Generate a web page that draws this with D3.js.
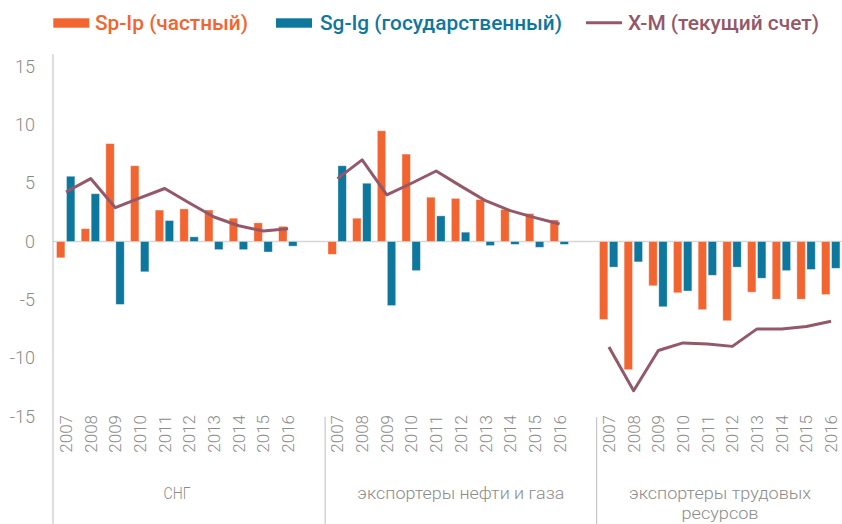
<!DOCTYPE html>
<html>
<head>
<meta charset="utf-8">
<script src="https://cdn.jsdelivr.net/npm/d3@7"></script>
<style>
  html, body { margin: 0; padding: 0; background: #ffffff; }
  svg { display: block; }
</style>
</head>
<body>
<svg id="chart" width="842" height="524"></svg>
<script>
// ---------------- DATA ----------------
const years = ["2007","2008","2009","2010","2011","2012","2013","2014","2015","2016"];
const groupNames = ["СНГ", "экспортеры нефти и газа", "экспортеры трудовых ресурсов"];
const seriesNames = ["Sp-Ip (частный)", "Sg-Ig (государственный)", "X-M (текущий счет)"];
const yTicks = [-15, -10, -5, 0, 5, 10, 15];

// Sp-Ip (частный)
const spCIS = [-1.4, 1.1, 8.4, 6.5, 2.7, 2.8, 2.7, 2.0, 1.6, 1.3];
const spOil = [-1.1, 2.0, 9.5, 7.5, 3.8, 3.7, 3.6, 2.75, 2.4, 1.85];
const spLab = [-6.7, -11.0, -3.8, -4.4, -5.85, -6.8, -4.35, -4.95, -4.95, -4.55];

// Sg-Ig (государственный)
const sgCIS = [5.6, 4.1, -5.4, -2.6, 1.8, 0.4, -0.7, -0.7, -0.9, -0.4];
const sgOil = [6.5, 5.0, -5.5, -2.5, 2.2, 0.8, -0.35, -0.25, -0.5, -0.25];
const sgLab = [-2.2, -1.75, -5.6, -4.25, -2.9, -2.2, -3.15, -2.5, -2.4, -2.3];

// X-M (текущий счет)
const xmCIS = [4.25, 5.4, 2.9, 3.75, 4.55, 3.3, 2.1, 1.35, 0.9, 1.1];
const xmOil = [5.4, 7.0, 4.0, 5.0, 6.05, 4.75, 3.5, 2.65, 2.05, 1.5];
const xmLab = [-9.05, -12.8, -9.35, -8.7, -8.8, -9.0, -7.5, -7.5, -7.3, -6.85];

const spAll = [spCIS, spOil, spLab];
const sgAll = [sgCIS, sgOil, sgLab];
const xmAll = [xmCIS, xmOil, xmLab];

// ---------------- STYLE ----------------
const cOrange = "#f26430";
const cBlue = "#0e779e";
const cLine = "#945869";
const cGray = "#8c8c8c";
const cAxis = "#c8c8c8";

const svg = d3.select("#chart");

// slot keys: each group's years, with an empty slot after the first two groups
const slots = [];
groupNames.forEach((g, gi) => {
  years.forEach(y => slots.push(gi + "-" + y));
  if (gi < groupNames.length - 1) slots.push(gi + "-blank");
});

const x = d3.scaleBand().domain(slots).range([53.66, 843.4]).padding(0);
const bw = x.bandwidth();
const cx = k => x(k) + bw / 2;
const y = d3.scaleLinear().domain([-15, 15]).range([416.3, 66.7]);

// rows
const rows = [];
groupNames.forEach((g, gi) => {
  years.forEach((yr, i) => {
    rows.push({ key: gi + "-" + yr, g: gi, year: yr, sp: spAll[gi][i], sg: sgAll[gi][i], xm: xmAll[gi][i] });
  });
});

// zero line
svg.append("line")
  .attr("x1", 53).attr("x2", 842)
  .attr("y1", y(0)).attr("y2", y(0))
  .attr("stroke", "#d6d6d6").attr("stroke-width", 1.5);

// bars
const barW = bw * 0.34;
svg.append("g").selectAll("rect.sp").data(rows).join("rect")
  .attr("class", "sp")
  .attr("x", d => cx(d.key) - bw * 0.385)
  .attr("width", barW)
  .attr("y", d => y(Math.max(0, d.sp)))
  .attr("height", d => Math.abs(y(d.sp) - y(0)))
  .attr("fill", cOrange)
  .attr("stroke", "#ffffff").attr("stroke-opacity", 0.45).attr("stroke-width", 0.8);

svg.append("g").selectAll("rect.sg").data(rows).join("rect")
  .attr("class", "sg")
  .attr("x", d => cx(d.key) + bw * 0.02)
  .attr("width", barW)
  .attr("y", d => y(Math.max(0, d.sg)))
  .attr("height", d => Math.abs(y(d.sg) - y(0)))
  .attr("fill", cBlue)
  .attr("stroke", "#ffffff").attr("stroke-opacity", 0.45).attr("stroke-width", 0.8);

// lines per group
const line = d3.line().x(d => cx(d.key)).y(d => y(d.xm));
groupNames.forEach((g, gi) => {
  svg.append("path")
    .datum(rows.filter(r => r.g === gi))
    .attr("d", line)
    .attr("fill", "none")
    .attr("stroke", cLine)
    .attr("stroke-width", 3)
    .attr("stroke-linejoin", "round");
});

// y axis line
svg.append("line")
  .attr("x1", 53).attr("x2", 53).attr("y1", 54).attr("y2", 524)
  .attr("stroke", cAxis).attr("stroke-width", 1.2);

// y axis ticks
const yAxis = svg.append("g").attr("transform", "translate(53,0)")
  .call(d3.axisLeft(y).tickValues(yTicks).tickSize(0).tickPadding(18).tickFormat(d => String(d)));
yAxis.select(".domain").remove();
yAxis.selectAll("text")
  .attr("font-family", "Roboto, 'DejaVu Sans', sans-serif")
  .attr("font-weight", 300)
  .attr("font-size", 18)
  .attr("fill", cGray);

// year labels
const xAxis = svg.append("g").attr("transform", "translate(0,415)")
  .call(d3.axisBottom(x).tickSize(0).tickFormat(k => k.endsWith("blank") ? "" : k.split("-")[1]));
xAxis.select(".domain").remove();
xAxis.selectAll("text")
  .attr("transform", "rotate(-90)")
  .attr("text-anchor", "end")
  .attr("x", 0).attr("y", 0).attr("dy", "0.35em")
  .attr("font-family", "Roboto, 'DejaVu Sans', sans-serif")
  .attr("font-weight", 300)
  .attr("font-size", 17)
  .attr("fill", cGray);

// group separators
[11, 22].forEach(i => {
  const sx = x(slots[i]);
  svg.append("line")
    .attr("x1", sx).attr("x2", sx).attr("y1", 417).attr("y2", 524)
    .attr("stroke", cAxis).attr("stroke-width", 1.2);
});

// group labels
const groupLabelSpec = [
  { lines: ["СНГ"], from: 0, to: 9, lens: [27] },
  { lines: ["экспортеры нефти и газа"], from: 11, to: 21, lens: [207] },
  { lines: ["экспортеры трудовых", "ресурсов"], from: 22, to: 31, lens: [182, 77] }
];
groupLabelSpec.forEach(s => {
  const mx = (x(slots[s.from]) + x(slots[s.to]) + bw) / 2;
  s.lines.forEach((t, li) => {
    svg.append("text")
      .attr("x", mx).attr("y", 499 + li * 20)
      .attr("text-anchor", "middle")
      .attr("font-family", "Roboto, 'DejaVu Sans', sans-serif")
      .attr("font-weight", 300)
      .attr("font-size", 17)
      .attr("fill", cGray)
      .attr("textLength", s.lens[li])
      .attr("lengthAdjust", "spacingAndGlyphs")
      .text(t);
  });
});

// legend
const legend = [
  { name: seriesNames[0], color: cOrange, type: "rect", sx: 53.3, tx: 95, tl: 153 },
  { name: seriesNames[1], color: cBlue, type: "rect", sx: 276, tx: 320, tl: 242 },
  { name: seriesNames[2], color: cLine, type: "line", sx: 586, tx: 628, tl: 191 }
];
legend.forEach(l => {
  if (l.type === "rect") {
    svg.append("rect").attr("x", l.sx).attr("y", 18.3).attr("width", 36).attr("height", 9.4).attr("fill", l.color);
  } else {
    svg.append("line").attr("x1", l.sx).attr("x2", l.sx + 36).attr("y1", 22.7).attr("y2", 22.7)
      .attr("stroke", l.color).attr("stroke-width", 3);
  }
  svg.append("text")
    .attr("x", l.tx).attr("y", 29.5)
    .attr("font-family", "Roboto, 'DejaVu Sans', sans-serif")
    .attr("font-weight", 500)
    .attr("font-size", 21)
    .attr("fill", l.color)
    .attr("textLength", l.tl)
    .attr("lengthAdjust", "spacingAndGlyphs")
    .text(l.name);
});
</script>
</body>
</html>
